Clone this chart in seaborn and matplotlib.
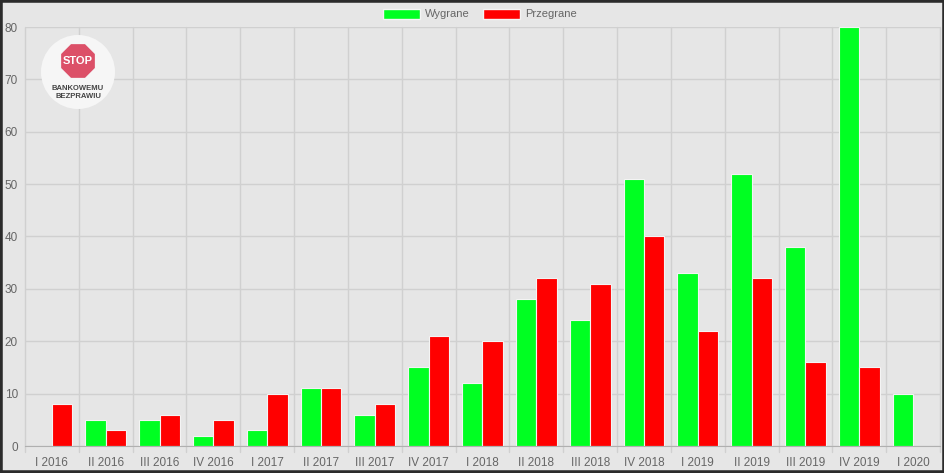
import matplotlib
matplotlib.use("Agg")
import matplotlib.pyplot as plt
import matplotlib.patches as mpatches
import numpy as np
import pandas as pd
import seaborn as sns

quarters = ["I 2016", "II 2016", "III 2016", "IV 2016", "I 2017", "II 2017", "III 2017",
            "IV 2017", "I 2018", "II 2018", "III 2018", "IV 2018", "I 2019", "II 2019",
            "III 2019", "IV 2019", "I 2020"]
wygrane = [0, 5, 5, 2, 3, 11, 6, 15, 12, 28, 24, 51, 33, 52, 38, 80, 10]
przegrane = [8, 3, 6, 5, 10, 11, 8, 21, 20, 32, 31, 40, 22, 32, 16, 15, 0]
series = ["Wygrane", "Przegrane"]
colors = ["#00ff22", "#ff0000"]

df = pd.DataFrame({
    "kwartal": quarters * 2,
    "wartosc": wygrane + przegrane,
    "seria": [series[0]] * len(quarters) + [series[1]] * len(quarters),
})

sns.set_style("white")
plt.rcParams["font.family"] = ["Liberation Sans", "DejaVu Sans"]

W, H = 945, 473
fig = plt.figure(figsize=(W / 100, H / 100), dpi=100)
fig.patch.set_facecolor("#e6e6e6")
ax = fig.add_axes([25 / W, (H - 446) / H, (940 - 25) / W, (446 - 27) / H])
ax.set_facecolor("#e6e6e6")

sns.barplot(data=df, x="kwartal", y="wartosc", hue="seria", palette=colors, saturation=1,
            width=0.76, edgecolor="#f4f4f4", linewidth=0.8, ax=ax, legend=False)

ax.set_ylim(0, 80)
ax.set_xlim(-0.5, len(quarters) - 0.5)
ax.set_yticks(range(0, 81, 10))
ax.set_xticks(np.arange(len(quarters)))
ax.set_xticklabels(quarters)
ax.set_xlabel("")
ax.set_ylabel("")
for b in np.arange(-0.5, len(quarters), 1.0):
    ax.axvline(b, ymin=-6 / 419, ymax=1, color="#d0d0d0", lw=1, zorder=0, clip_on=False)
ax.yaxis.grid(True, color="#d0d0d0", lw=1)
ax.set_axisbelow(True)
for s in ["top", "right", "left"]:
    ax.spines[s].set_visible(False)
ax.spines["bottom"].set_color("#b0b0b0")
ax.tick_params(axis="x", length=0, pad=8, labelsize=8.5, labelcolor="#666666")
ax.tick_params(axis="y", length=0, pad=5, labelsize=8.5, labelcolor="#666666")

handles = [mpatches.Patch(facecolor=c, edgecolor="#f4f4f4", label=s) for s, c in zip(series, colors)]
fig.legend(handles=handles, loc="center", bbox_to_anchor=(480 / W, 1 - 14 / H), ncol=2,
           frameon=False, fontsize=8, handlelength=3.3, handleheight=1.0,
           columnspacing=1.2, handletextpad=0.5, labelcolor="#666666")

# logo
cx, cy = 78 / W, 1 - 72 / H
fig.patches.append(mpatches.Ellipse((cx, cy), 74 / W, 74 / H, transform=fig.transFigure,
                                    facecolor="#f6f6f6", edgecolor="none", zorder=5))
oct_r = 19
angles = np.deg2rad(22.5 + 45 * np.arange(8))
pts = [((78 + oct_r * np.cos(a)) / W, 1 - (61 + oct_r * np.sin(a)) / H) for a in angles]
fig.patches.append(mpatches.Polygon(pts, closed=True, transform=fig.transFigure,
                                    facecolor="#dc5068", edgecolor="#f6f6f6", lw=1, zorder=6))
fig.text(cx, 1 - 61 / H, "STOP", ha="center", va="center", color="white",
         fontsize=8, fontweight="bold", zorder=7)
fig.text(cx, 1 - 89 / H, "BANKOWEMU", ha="center", va="center", color="#444444",
         fontsize=5.5, fontweight="bold", zorder=7)
fig.text(cx, 1 - 97 / H, "BEZPRAWIU", ha="center", va="center", color="#444444",
         fontsize=5.5, fontweight="bold", zorder=7)

# dark frame
fig.patches.append(mpatches.Rectangle((0, 0), 1, 1, transform=fig.transFigure, fill=False,
                                      edgecolor="#2b2b2b", lw=4, zorder=10))

fig.savefig("out.png", dpi=100, facecolor=fig.get_facecolor())
